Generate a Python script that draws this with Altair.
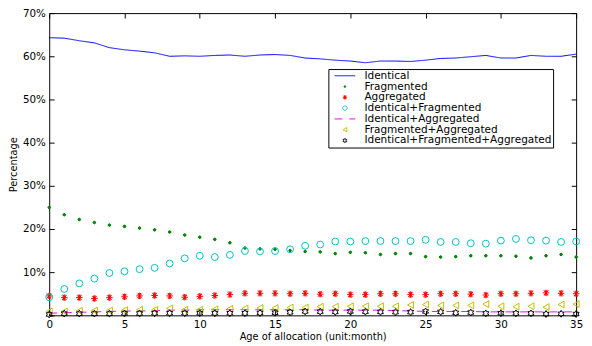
import altair as alt
import pandas as pd

months = list(range(36))
series_names = ["Identical", "Fragmented", "Aggregated", "Identical+Fragmented",
                "Identical+Aggregated", "Fragmented+Aggregated",
                "Identical+Fragmented+Aggregated"]

identical = [64.3, 64.2, 63.6, 63.1, 62.0, 61.5, 61.2, 60.8, 60.0, 60.1, 60.0, 60.2,
             60.3, 60.0, 60.3, 60.4, 60.2, 59.6, 59.4, 59.1, 58.9, 58.5, 58.9, 58.9,
             58.8, 59.1, 59.5, 59.6, 59.9, 60.2, 59.6, 59.6, 60.2, 60.0, 60.0, 60.5]
fragmented = [25.0, 23.3, 22.2, 21.5, 20.9, 20.6, 20.2, 19.8, 19.3, 18.6, 18.1, 17.6,
              16.8, 15.6, 15.4, 15.3, 15.0, 14.8, 14.7, 14.3, 14.6, 14.5, 14.1, 14.3,
              14.3, 13.6, 13.5, 13.6, 13.8, 13.8, 13.8, 13.7, 13.3, 13.8, 14.1, 13.5]
aggregated = [4.5, 4.1, 4.1, 3.9, 4.1, 4.3, 4.5, 4.6, 4.5, 4.2, 4.4, 4.6,
              4.8, 5.1, 5.1, 5.1, 5.0, 5.1, 4.9, 5.0, 4.8, 4.8, 5.0, 5.0,
              4.8, 4.8, 5.0, 5.0, 4.9, 4.7, 5.0, 5.0, 5.1, 5.2, 5.1, 5.0]
ident_frag = [4.2, 6.1, 7.4, 8.5, 9.8, 10.2, 10.7, 11.0, 12.0, 13.2, 13.8, 13.5,
              14.0, 14.9, 14.8, 14.9, 15.3, 16.1, 16.4, 17.1, 17.1, 17.2, 17.2, 17.2,
              17.2, 17.5, 17.0, 17.0, 16.7, 16.6, 17.3, 17.7, 17.4, 17.3, 17.0, 17.1]
ident_agg = [0.5, 0.6, 0.7, 0.8, 0.9, 1.0, 1.0, 1.1, 1.2, 1.2, 1.3, 1.3,
             1.3, 1.3, 1.3, 1.3, 1.3, 1.3, 1.2, 1.2, 1.2, 1.2, 1.2, 1.1,
             1.0, 0.9, 0.9, 0.9, 0.9, 0.8, 0.8, 0.8, 0.8, 0.8, 0.8, 0.8]
frag_agg = [0.9, 0.9, 1.05, 1.1, 1.1, 1.2, 1.3, 1.3, 1.6, 1.3, 1.3, 1.4,
            1.5, 1.6, 1.7, 1.7, 1.8, 1.8, 2.0, 2.0, 2.1, 2.1, 2.1, 2.1,
            2.4, 2.5, 2.3, 2.3, 2.3, 2.6, 2.1, 2.0, 2.1, 1.9, 2.5, 2.6]
ident_frag_agg = [0.2, 0.4, 0.4, 0.4, 0.4, 0.45, 0.45, 0.5, 0.5, 0.5, 0.5, 0.5,
                  0.5, 0.5, 0.55, 0.6, 0.7, 0.9, 0.85, 0.8, 0.9, 0.85, 0.8, 0.75,
                  0.75, 0.9, 0.8, 0.6, 0.65, 0.45, 0.5, 0.45, 0.45, 0.3, 0.35, 0.3]

x_ticks = [0, 5, 10, 15, 20, 25, 30, 35]
y_ticks = [0, 10, 20, 30, 40, 50, 60, 70]

colors = ["#0000ff", "#008000", "#ff0000", "#00c0c0", "#ff00ff", "#bfbf00", "#000000"]
fills = ["transparent", "#008000", "transparent", "transparent", "transparent",
         "transparent", "transparent"]
LINE_PATH = "M-4.7,0L4.7,0"
DOT = "M-0.38,0A0.38,0.38 0 1,0 0.38,0A0.38,0.38 0 1,0 -0.38,0Z"
ASTERISK = ("M-0.95,0L0.95,0M0,-0.95L0,0.95M-0.67,-0.67L0.67,0.67M-0.67,0.67L0.67,-0.67"
            "M-0.35,-0.85L0.35,0.85M0.35,-0.85L-0.35,0.85")
HEXAGRAM = ("M0,-1L0.289,-0.5L0.866,-0.5L0.577,0L0.866,0.5L0.289,0.5"
            "L0,1L-0.289,0.5L-0.866,0.5L-0.577,0L-0.866,-0.5L-0.289,-0.5Z")
shapes = [LINE_PATH, DOT, ASTERISK, "circle", LINE_PATH, "triangle-left", HEXAGRAM]
dashes = [[1, 0], [1, 0], [1, 0], [1, 0], [8, 7], [1, 0], [1, 0]]

all_values = [identical, fragmented, aggregated, ident_frag, ident_agg, frag_agg, ident_frag_agg]
rows = []
for name, vals in zip(series_names, all_values):
    for m, v in zip(months, vals):
        rows.append({"month": m, "value": v, "series": name})
df = pd.DataFrame(rows)

FONT = "DejaVu Sans"

legend = alt.Legend(
    title=None, orient="none", legendX=284.5, legendY=57, padding=1.5, rowPadding=-3,
    symbolSize=20, symbolStrokeWidth=1, symbolOffset=10, labelOffset=14.5, labelLimit=400,
    strokeColor="black", fillColor="white", labelExpr="datum.label + ' '",
    labelFont=FONT, labelFontSize=10.7, labelColor="black",
)

stroke_enc = alt.Stroke("series:N", scale=alt.Scale(domain=series_names, range=colors), legend=legend)
fill_enc = alt.Fill("series:N", scale=alt.Scale(domain=series_names, range=fills), legend=legend)
shape_enc = alt.Shape("series:N", scale=alt.Scale(domain=series_names, range=shapes), legend=legend)
dash_enc = alt.StrokeDash("series:N", scale=alt.Scale(domain=series_names, range=dashes), legend=legend)

x_scale = alt.Scale(domain=[0, 35], nice=False, zero=False)
y_scale = alt.Scale(domain=[0, 70], nice=False)

x_axis = alt.Axis(values=x_ticks, orient="bottom", offset=-5, tickSize=5, domain=False,
                  grid=False, labelPadding=4, title="Age of allocation (unit:month)",
                  titlePadding=2, labelFlush=False)
y_axis = alt.Axis(values=y_ticks, orient="left", offset=-5, tickSize=5, domain=False,
                  grid=False, labelPadding=4, title="Percentage", titlePadding=4,
                  labelExpr="datum.value == 0 ? '' : datum.value + '%'")
x_axis_top = alt.Axis(values=x_ticks, orient="top", offset=-5, tickSize=5, domain=False,
                      grid=False, labels=False, title=None)
y_axis_right = alt.Axis(values=y_ticks, orient="right", offset=-5, tickSize=5, domain=False,
                        grid=False, labels=False, title=None)

base = alt.Chart(df)
line_names = ["Identical", "Identical+Aggregated"]
point_names = [s for s in series_names if s not in line_names]

lines = base.transform_filter(
    alt.FieldOneOfPredicate(field="series", oneOf=line_names)
).mark_line(strokeWidth=1).encode(
    x=alt.X("month:Q", scale=x_scale, axis=x_axis),
    y=alt.Y("value:Q", scale=y_scale, axis=y_axis),
    stroke=stroke_enc,
    strokeDash=dash_enc,
)

points = base.transform_filter(
    alt.FieldOneOfPredicate(field="series", oneOf=point_names)
).mark_point(size=49, strokeWidth=1, opacity=1).encode(
    x=alt.X("month:Q", scale=x_scale, axis=None),
    y=alt.Y("value:Q", scale=y_scale, axis=None),
    stroke=stroke_enc,
    fill=fill_enc,
    shape=shape_enc,
)

frame_ticks = base.mark_line(opacity=0).encode(
    x=alt.X("month:Q", scale=x_scale, axis=x_axis_top),
    y=alt.Y("value:Q", scale=y_scale, axis=y_axis_right),
    detail="series:N",
)

chart = alt.layer(lines, points, frame_ticks).resolve_axis(
    x="independent", y="independent"
).properties(
    width=537, height=308, autosize="none",
    padding={"left": 42, "top": 2, "right": 8, "bottom": 26},
).configure_view(
    stroke="black", strokeWidth=1
).configure_axis(
    labelFont=FONT, labelFontSize=10.5, labelColor="black", tickColor="black",
    titleFont=FONT, titleFontSize=10, titleFontWeight="normal", titleColor="black",
)

chart.save("out.html", embed_options={"renderer": "svg", "actions": False})
